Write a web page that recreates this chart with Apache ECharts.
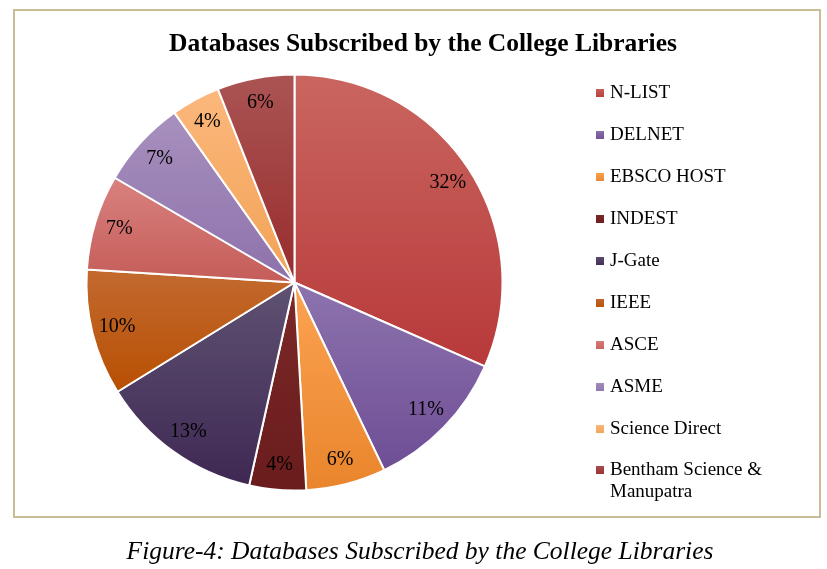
<!DOCTYPE html>
<html>
<head>
<meta charset="utf-8">
<script src="https://cdn.jsdelivr.net/npm/echarts@6/dist/echarts.min.js"></script>
<style>
  html, body { margin: 0; padding: 0; background: #fff; }
  #chart { width: 827px; height: 569px; }
</style>
</head>
<body>
<div id="chart"></div>
<script>
// databases and share of libraries (percent)
const databases = ['N-LIST', 'DELNET', 'EBSCO HOST', 'INDEST', 'J-Gate', 'IEEE', 'ASCE', 'ASME', 'Science Direct', 'Bentham Science & Manupatra'];
const shares = [31.6, 11.3, 6.2, 4.4, 12.7, 9.8, 7.4, 6.8, 3.8, 6.0];

// gradient colours for each slice, top -> bottom
const topColors = ['#c9665f', '#8d74ae', '#fca352', '#7c2828', '#5f5272', '#c26a30', '#d98280', '#a890be', '#fcb77c', '#ab5454'];
const bottomColors = ['#b8393a', '#6e4d95', '#e9852c', '#6a1c1c', '#3e2853', '#b84f02', '#c45c58', '#8d72ab', '#f1a356', '#982c2c'];

const serif = '"Liberation Serif", "Times New Roman", serif';
const longName = databases[databases.length - 1];

const chart = echarts.init(document.getElementById('chart'));

const pieData = databases.map((name, i) => ({
  name: name,
  value: shares[i],
  itemStyle: {
    color: new echarts.graphic.LinearGradient(0, 0, 0, 1, [
      {offset: 0, color: topColors[i]},
      {offset: 1, color: bottomColors[i]}
    ])
  }
}));

const legendBase = {
  orient: 'vertical',
  left: 594,
  padding: 0,
  itemWidth: 10,
  itemHeight: 10,
  itemGap: 20,
  icon: 'rect',
  selectedMode: false,
  textStyle: {fontFamily: serif, fontSize: 19, lineHeight: 22, color: '#000'}
};

chart.setOption({
  animation: false,
  title: [{
    text: 'Databases Subscribed by the College Libraries',
    left: 418,
    textAlign: 'center',
    top: 26,
    textStyle: {fontFamily: serif, fontWeight: 'bold', fontSize: 25.5, color: '#000'}
  }, {
    text: 'Figure-4: Databases Subscribed by the College Libraries',
    left: 415,
    textAlign: 'center',
    top: 534,
    textStyle: {fontFamily: serif, fontStyle: 'italic', fontWeight: 'normal', fontSize: 25.5, color: '#000'}
  }],
  graphic: [{
    type: 'rect',
    shape: {x: 14, y: 10, width: 806, height: 507},
    style: {fill: 'none', stroke: '#c8bd94', lineWidth: 2},
    silent: true
  }],
  legend: [
    Object.assign({}, legendBase, {
      top: 82,
      data: databases.slice(0, databases.length - 1)
    }),
    // two-line entry: icon sits on the first line
    Object.assign({}, legendBase, {
      top: 437,
      data: [longName],
      formatter: () => ' \nBentham Science &\nManupatra'
    })
  ],
  series: [{
    type: 'pie',
    center: [294.5, 282.5],
    radius: 208,
    startAngle: 90,
    clockwise: true,
    avoidLabelOverlap: false,
    label: {show: false},
    labelLine: {show: false},
    emphasis: {disabled: true},
    itemStyle: {borderColor: '#fff', borderWidth: 2},
    data: pieData
  }, {
    // label ring: only carries the percentage labels
    type: 'pie',
    center: [294.5, 282.5],
    radius: [152, 208],
    startAngle: 90,
    clockwise: true,
    silent: true,
    percentPrecision: 0,
    legendHoverLink: false,
    avoidLabelOverlap: false,
    itemStyle: {color: 'rgba(0,0,0,0)'},
    label: {
      show: true,
      position: 'inside',
      formatter: '{d}%',
      fontFamily: serif,
      fontSize: 20,
      color: '#000'
    },
    labelLine: {show: false},
    data: databases.map((name, i) => ({name: name, value: shares[i]}))
  }]
});
</script>
</body>
</html>
